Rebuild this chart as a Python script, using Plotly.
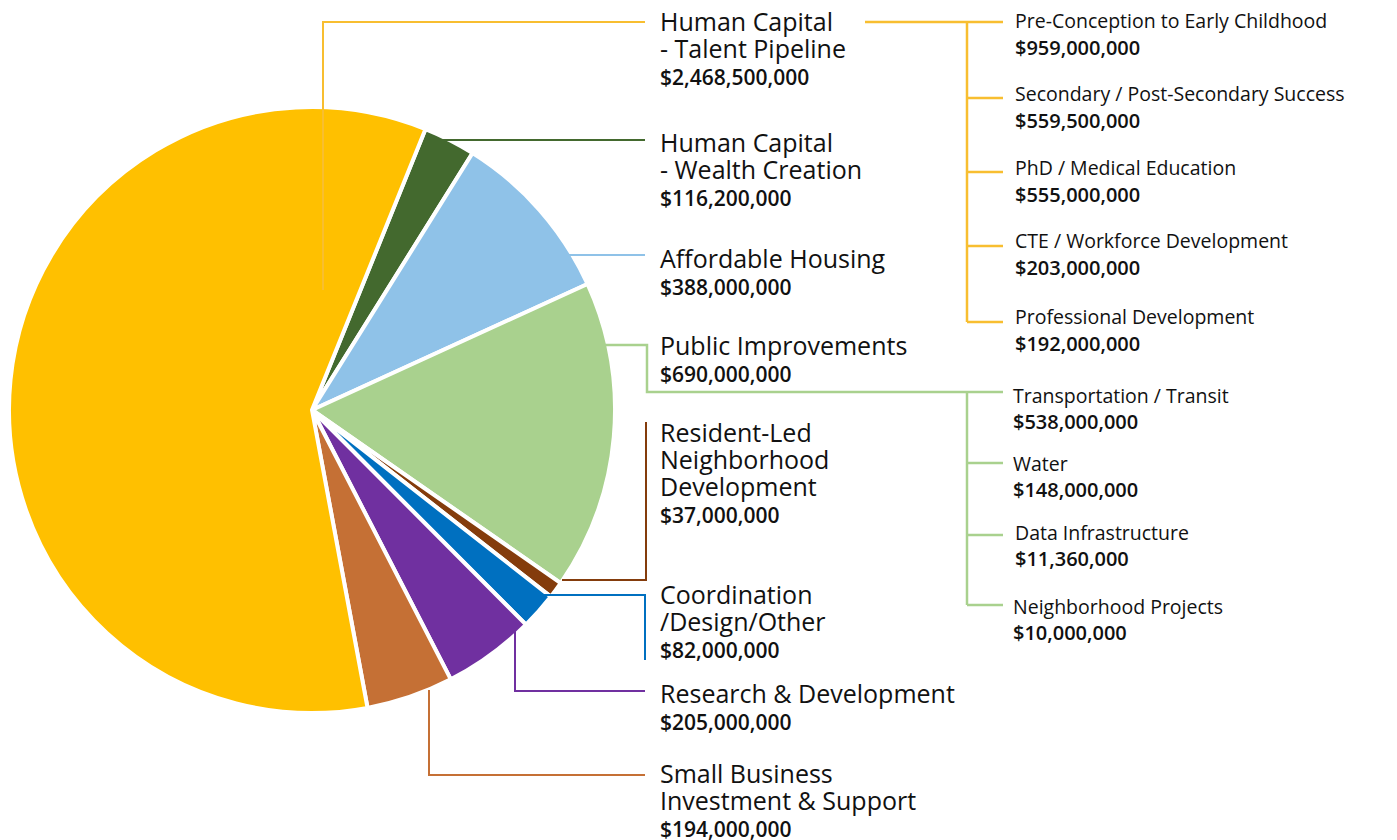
import plotly.graph_objects as go

W, H = 1397, 840
OFF = 8  # page body margin

# ---- data ----
categories = ["Human Capital - Wealth Creation", "Affordable Housing", "Public Improvements",
              "Resident-Led Neighborhood Development", "Coordination /Design/Other",
              "Research & Development", "Small Business Investment & Support",
              "Human Capital - Talent Pipeline"]
values = [116200000, 388000000, 690000000, 37000000, 82000000, 205000000, 194000000, 2468500000]
colors = ["#43692E", "#8FC2E8", "#A9D18E", "#843C0C", "#0070C0", "#7030A0", "#C57035", "#FFC000"]

talent_sub = ["Pre-Conception to Early Childhood", "Secondary / Post-Secondary Success",
              "PhD / Medical Education", "CTE / Workforce Development", "Professional Development"]
talent_sub_values = [959000000, 559500000, 555000000, 203000000, 192000000]

public_sub = ["Transportation / Transit", "Water", "Data Infrastructure", "Neighborhood Projects"]
public_sub_values = [538000000, 148000000, 11360000, 10000000]

FONT = "Open Sans"
TXT = "#111111"

def px(x):
    return (x - OFF) / W

def py(y):
    return 1 - (y - OFF) / H

fig = go.Figure(go.Pie(
    labels=categories, values=values, sort=False, direction="clockwise", rotation=22,
    marker=dict(colors=colors, line=dict(color="white", width=4)),
    textinfo="none", hoverinfo="label+value", showlegend=False,
    domain=dict(x=[px(312 - 303), px(312 + 303)], y=[py(410 + 303), py(410 - 303)]),
))

shapes = []
def path(points, color, width=2):
    d = "M " + " L ".join(f"{px(x)},{py(y)}" for x, y in points)
    shapes.append(dict(type="path", path=d, xref="paper", yref="paper",
                       line=dict(color=color, width=width), layer="above"))

YEL = "#F8BE30"
GRN = "#A9D18E"
path([(323, 290), (323, 22), (645, 22)], YEL)
path([(865, 22), (967, 22)], YEL, 2.5)
path([(967, 22), (967, 322)], YEL, 2.5)
for y in [22, 98, 172, 246, 322]:
    path([(967, y), (1003, y)], YEL, 2.5)
path([(440, 140), (645, 140)], colors[0])
path([(560, 255), (645, 255)], colors[1])
path([(605, 345), (647, 345), (647, 392), (967, 392)], GRN, 2.5)
path([(967, 392), (967, 605)], GRN, 2.5)
for y in [392, 463, 535, 605]:
    path([(967, y), (1003, y)], GRN, 2.5)
path([(562, 580), (646, 580), (646, 422)], colors[3])
path([(540, 595), (645, 595), (645, 660)], colors[4])
path([(515, 628), (515, 691), (645, 691)], colors[5])
path([(429, 690), (429, 775), (645, 775)], colors[6])

annotations = []
def block(x, y_first, lines, value, spacing, tsize, vsize):
    # one text per label block; the base font sets the line spacing (1.3em)
    base = spacing / 1.3
    parts = [f'<span style="font-size:{tsize}px">{t}</span>' for t in lines]
    parts.append(f'<span style="font-size:{vsize}px;font-weight:600">${value:,.0f}</span>')
    n = len(parts)
    y_mid = y_first + (n - 1) * spacing / 2
    annotations.append(dict(x=px(x), y=py(y_mid), xref="paper", yref="paper",
                            text="<br>".join(parts), align="left",
                            showarrow=False, xanchor="left", yanchor="middle",
                            font=dict(family=FONT, size=base, color=TXT)))

main_blocks = [
    (7, ["Human Capital", "- Talent Pipeline"], 22),
    (0, ["Human Capital", "- Wealth Creation"], 143),
    (1, ["Affordable Housing"], 259),
    (2, ["Public Improvements"], 346),
    (3, ["Resident-Led", "Neighborhood", "Development"], 433),
    (4, ["Coordination", "/Design/Other"], 595),
    (5, ["Research & Development"], 694),
    (6, ["Small Business", "Investment & Support"], 774),
]
for idx, lines, y0 in main_blocks:
    block(658, y0 - 2, lines, values[idx], 27, 25, 21)

for name, v, y in zip(talent_sub, talent_sub_values, [21, 94, 168, 241, 317]):
    block(1013, y, [name], v, 26.5, 19.5, 20)

for name, v, y, x in zip(public_sub, public_sub_values, [396, 464, 533, 607], [1011, 1011, 1013, 1011]):
    block(x, y, [name], v, 25.5, 19.5, 20)

fig.update_layout(width=W, height=H, margin=dict(l=0, r=0, t=0, b=0),
                  paper_bgcolor="white", plot_bgcolor="white",
                  shapes=shapes, annotations=annotations, showlegend=False)
fig.write_html("out.html")
